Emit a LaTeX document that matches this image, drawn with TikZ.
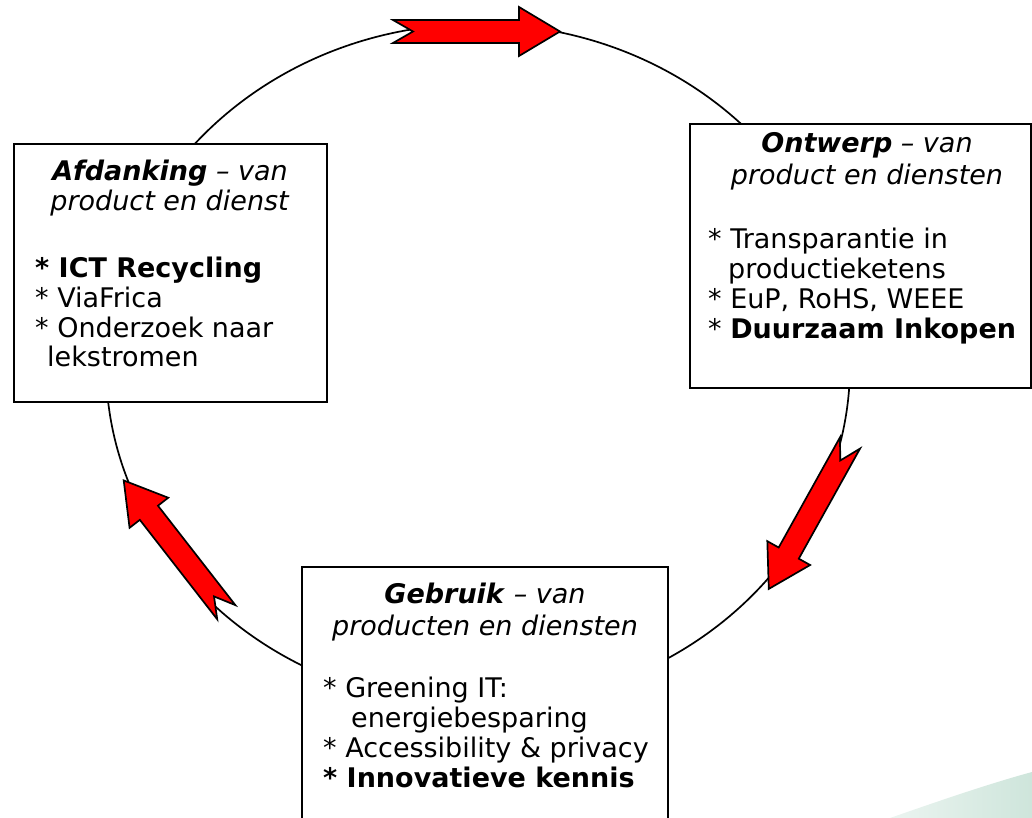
\documentclass[tikz,border=0pt]{standalone}
\usepackage{fontspec}
\setmainfont{DejaVu Sans}
\definecolor{arrowred}{RGB}{255,0,0}
\definecolor{mint}{RGB}{206,229,219}
\begin{document}
\begin{tikzpicture}[x=1pt,y=-1pt,
  box/.style={draw=black, line width=1.7pt, fill=white, inner sep=0pt},
  txt/.style={inner sep=0pt, font=\fontsize{27}{30}\selectfont},
  bul/.style={txt, anchor=base west},
  ttl/.style={txt, anchor=base},
  redarrow/.style={fill=arrowred, draw=black, line width=1.7pt, line join=miter},
  ring/.style={draw=black, line width=1.7pt},
  blockarrow/.pic={\draw[redarrow] (0,11.5) -- (126,11.5) -- (126,24.5) -- (167,0) -- (126,-24.5) -- (126,-11.5) -- (0,-11.5) -- (20,0) -- cycle;}]
\useasboundingbox (0,0) rectangle (1032,818);
\clip (0,0) rectangle (1032,818);
\shade[left color=mint!40!white, right color=mint] (890,818) .. controls (950,797) and (995,782) .. (1032,772) -- (1032,818) -- cycle;
\draw[ring] (478,365) ellipse [x radius=372pt, y radius=341pt];
% boxes
\node[box, minimum width=313pt, minimum height=258pt] (afd) at (170.5,273) {};
\node[box, minimum width=341pt, minimum height=264pt] (ont) at (860.5,256) {};
\node[box, minimum width=366pt, minimum height=276pt] (geb) at (485,705) {};
% arrows
\pic (arrTop) at (393,31.5) {blockarrow};
\pic[rotate=-119.1] (arrRight) at (850,443) {blockarrow};
\pic[rotate=127.9] (arrLeft) at (226.3,612.2) {blockarrow};
% left box text
\node[ttl] (afdT1) at (170,181) {\textbf{\textit{Afdanking}}\textit{ – van}};
\node[ttl] (afdT2) at (170,211) {\textit{product en dienst}};
\node[bul] (afdB1) at (35,277) {\textbf{* ICT Recycling}};
\node[bul] (afdB2) at (35,307) {* ViaFrica};
\node[bul] (afdB3) at (35,337) {* Onderzoek naar};
\node[bul] (afdB4) at (47,366) {lekstromen};
% right box text
\node[ttl] (ontT1) at (867,153) {\textbf{\textit{Ontwerp}}\textit{ – van}};
\node[ttl] (ontT2) at (867,185) {\textit{product en diensten}};
\node[bul] (ontB1) at (708,248) {* Transparantie in};
\node[bul] (ontB2) at (728,278) {productieketens};
\node[bul] (ontB3) at (708,308) {* EuP, RoHS, WEEE};
\node[bul] (ontB4) at (708,338) {* \textbf{Duurzaam Inkopen}};
% bottom box text
\node[ttl] (gebT1) at (485,603) {\textbf{\textit{Gebruik}}\textit{ – van}};
\node[ttl] (gebT2) at (485,635) {\textit{producten en diensten}};
\node[bul] (gebB1) at (323,697) {* Greening IT:};
\node[bul] (gebB2) at (351,727) {energiebesparing};
\node[bul] (gebB3) at (323,757) {* Accessibility \& privacy};
\node[bul] (gebB4) at (323,787) {\textbf{* Innovatieve kennis}};
\end{tikzpicture}
\end{document}
